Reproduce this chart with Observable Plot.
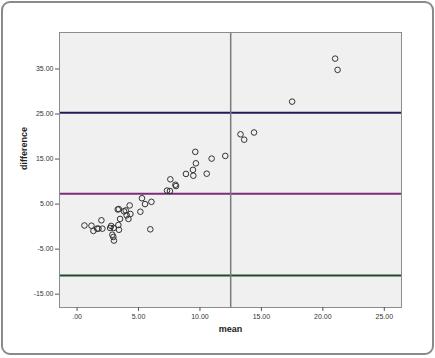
<!DOCTYPE html>
<html>
<head>
<meta charset="utf-8">
<script src="https://cdn.jsdelivr.net/npm/d3@7"></script>
<script src="https://cdn.jsdelivr.net/npm/@observablehq/plot@0.6"></script>
<style>
  html, body { margin: 0; padding: 0; background: #fff; }
  #wrap { position: relative; width: 435px; height: 358px; overflow: hidden; }
  #border { position: absolute; left: 1px; top: 1px; width: 429px; height: 350px;
            border: 2px solid #8a8a8a; border-radius: 9px; pointer-events: none; }
  #chart { position: absolute; left: 0; top: 0; }
</style>
</head>
<body>
<div id="wrap"><div id="chart"></div><div id="border"></div></div>
<script>
const means = [21.0, 21.2, 17.5, 14.4, 13.3, 13.6, 12.06, 10.95, 9.62, 9.67, 10.55, 9.43, 9.46, 8.86,
  7.59, 8.0, 8.05, 7.32, 7.56, 5.28, 6.05, 5.53, 5.15, 5.96, 4.28, 4.34, 4.18, 4.04, 3.96, 3.82,
  3.39, 3.31, 3.5, 3.36, 3.41, 2.98, 2.77, 2.69, 2.87, 2.95, 3.0, 1.98, 2.06, 1.74, 1.63, 1.33, 1.17, 0.6];
const diffs = [37.3, 34.8, 27.75, 20.9, 20.5, 19.3, 15.7, 15.1, 16.6, 14.05, 11.75, 12.6, 11.3, 11.7,
  10.5, 9.3, 9.0, 8.0, 7.9, 6.3, 5.5, 5.0, 3.3, -0.6, 4.7, 2.8, 1.7, 2.5, 3.6, 3.4,
  3.9, 3.8, 1.7, 0.35, -0.7, -0.3, 0.15, -0.3, -1.8, -2.3, -3.1, 1.4, -0.45, -0.45, -0.45, -0.95, 0.2, 0.25];
const xTicks = [0, 5, 10, 15, 20, 25];
const yTicks = [-15, -5, 5, 15, 25, 35];
const upperLimit = 25.3;
const meanDiff = 7.3;
const lowerLimit = -10.85;
const refMean = 12.5;

const points = means.map((m, i) => ({mean: m, difference: diffs[i]}));
const fmt = d => d === 0 ? ".00" : d.toFixed(2);

const chart = Plot.plot({
  width: 435,
  height: 358,
  marginLeft: 59,
  marginRight: 34,
  marginTop: 32,
  marginBottom: 51,
  style: {fontFamily: "Liberation Sans, Arial, sans-serif", fontSize: "7px", color: "#333", background: "transparent"},
  x: {domain: [-1.43, 26.4]},
  y: {domain: [-17.96, 43.1]},
  marks: [
    Plot.frame({fill: "#f0f0f0", stroke: "none"}),
    Plot.ruleY([upperLimit], {stroke: "#1f1b5e", strokeWidth: 2}),
    Plot.ruleY([meanDiff], {stroke: "#7b2d7a", strokeWidth: 2}),
    Plot.ruleY([lowerLimit], {stroke: "#1f4a2c", strokeWidth: 2}),
    Plot.ruleX([refMean], {stroke: "#7a7a7a", strokeWidth: 1.5}),
    Plot.dot(points, {x: "mean", y: "difference", r: 2.8, stroke: "#333", strokeWidth: 1, fill: "none"}),
    Plot.frame({stroke: "#8c8c8c", strokeWidth: 1}),
    Plot.axisX(xTicks, {tickSize: 4, tickPadding: 3, tickFormat: fmt, label: null, stroke: "#555"}),
    Plot.axisY(yTicks, {tickSize: 4, tickPadding: 2, tickFormat: fmt, label: null, stroke: "#555"}),
    Plot.text(["mean"], {frameAnchor: "bottom", dy: 24, fontWeight: "bold", fontSize: 9, fill: "#222"}),
    Plot.text(["difference"], {frameAnchor: "left", dx: -35, rotate: -90, fontWeight: "bold", fontSize: 9, fill: "#222"})
  ]
});
document.getElementById("chart").appendChild(chart);
</script>
</body>
</html>
